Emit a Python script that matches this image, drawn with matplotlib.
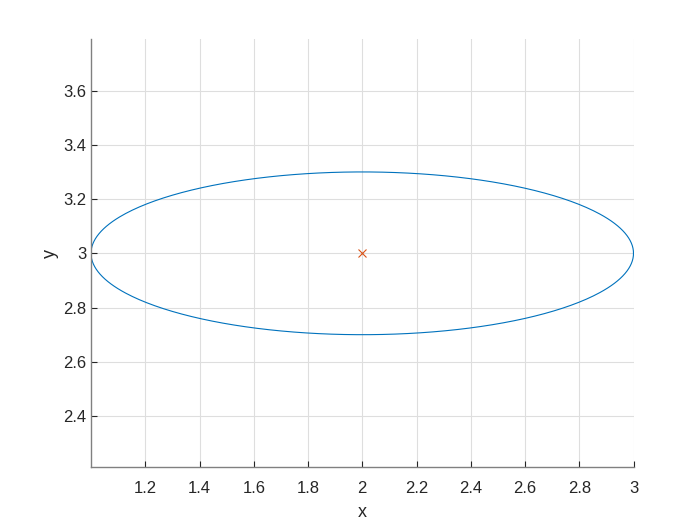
import numpy as np
import matplotlib
matplotlib.use("Agg")
import matplotlib.pyplot as plt

# ellipse parameters
center_x = 2.0
center_y = 3.0
radius_x = 1.0
radius_y = 0.3

x_ticks = [1.2, 1.4, 1.6, 1.8, 2.0, 2.2, 2.4, 2.6, 2.8, 3.0]
x_tick_labels = ["1.2", "1.4", "1.6", "1.8", "2", "2.2", "2.4", "2.6", "2.8", "3"]
y_ticks = [2.4, 2.6, 2.8, 3.0, 3.2, 3.4, 3.6]
y_tick_labels = ["2.4", "2.6", "2.8", "3", "3.2", "3.4", "3.6"]

plt.rcParams['font.family'] = ['Liberation Sans', 'DejaVu Sans']

fig = plt.figure(figsize=(7, 5.25), dpi=100)
ax = fig.add_axes([0.13, 0.11, 0.775, 0.815])

t = np.linspace(0, 2 * np.pi, 400)
ax.plot(center_x + radius_x * np.cos(t), center_y + radius_y * np.sin(t),
        color=(0, 0.447, 0.741), linewidth=0.8)
ax.plot([center_x], [center_y], marker='x', color=(0.85, 0.325, 0.098),
        markersize=6, markeredgewidth=0.8, linestyle='none')

ax.set_xlim(1, 3)
ax.set_ylim(2.7, 3.3)
ax.set_aspect('equal', adjustable='datalim')

ax.set_xticks(x_ticks)
ax.set_xticklabels(x_tick_labels)
ax.set_yticks(y_ticks)
ax.set_yticklabels(y_tick_labels)

ax.grid(True, color=(0.87, 0.87, 0.87), linewidth=0.8)
ax.set_axisbelow(True)
for side in ['top', 'right']:
    ax.spines[side].set_visible(False)
for side in ['left', 'bottom']:
    ax.spines[side].set_color((0.5, 0.5, 0.5))
    ax.spines[side].set_linewidth(1.0)
ax.tick_params(direction='in', length=4, color=(0.15, 0.15, 0.15),
               labelsize=12, labelcolor=(0.15, 0.15, 0.15))
ax.tick_params(axis='x', pad=10)

ax.set_xlabel('x', fontsize=13, color=(0.15, 0.15, 0.15), labelpad=6)
ax.set_ylabel('y', fontsize=13, color=(0.15, 0.15, 0.15), labelpad=3)

fig.savefig('out.png', dpi=100)
